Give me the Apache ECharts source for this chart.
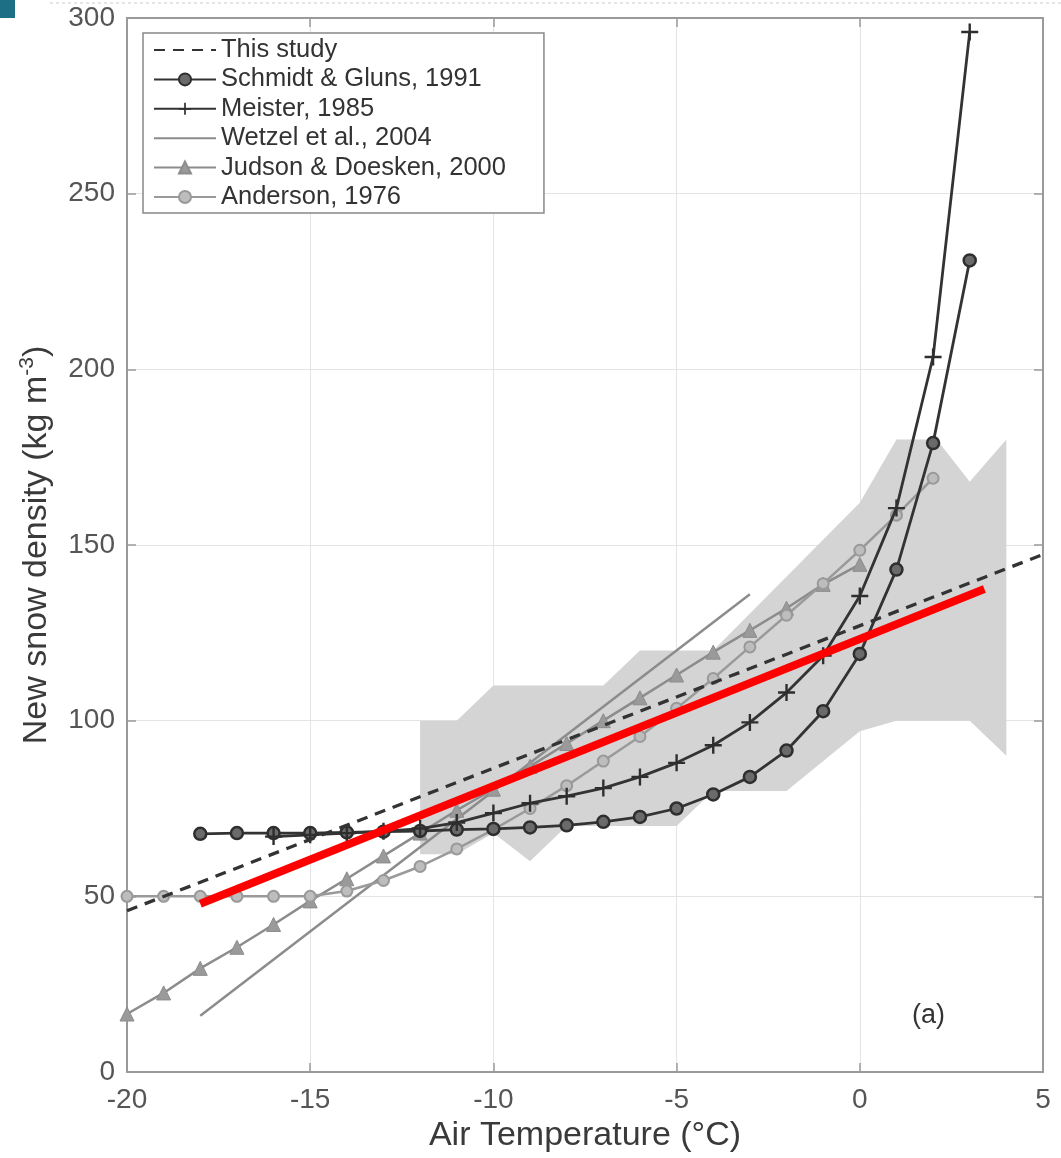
<!DOCTYPE html>
<html>
<head>
<meta charset="utf-8">
<script src="https://cdn.jsdelivr.net/npm/echarts@6/dist/echarts.min.js"></script>
<style>html,body{margin:0;padding:0;background:#fff;}#c{width:1061px;height:1158px;}</style>
</head>
<body>
<div id="c"></div>
<script>
// ---- data ----
const xTicks = [-20, -15, -10, -5, 0, 5];
const yTicks = [0, 50, 100, 150, 200, 250, 300];

const thisStudyT = [-20, 5];
const thisStudyV = [45.9, 147.3];

const schmidtT = [-18,-17,-16,-15,-14,-13,-12,-11,-10,-9,-8,-7,-6,-5,-4,-3,-2,-1,0,1,2,3];
const schmidtV = [67.8,68,68,68,68.2,68.4,68.6,69,69.2,69.6,70.2,71.2,72.6,75,79,84,91.5,102.7,119,143,179,231];

const meisterT = [-16,-15,-14,-13,-12,-11,-10,-9,-8,-7,-6,-5,-4,-3,-2,-1,0,1,2,3];
const meisterV = [67,67.5,68,68.5,69.3,71,73.7,76.5,78.5,80.8,84,88,93,99.5,108,118.5,135.5,160.5,203.5,296];

const wetzelT = [-18, -3];
const wetzelV = [16, 136];

const judsonT = [-20,-19,-18,-17,-16,-15,-14,-13,-12,-11,-10,-9,-8,-7,-6,-5,-4,-3,-2,-1,0];
const judsonV = [16.5,22.5,29.5,35.5,42,48.7,55,61.5,68,74.5,80.5,87,93.5,100,106.5,113,119.5,125.7,132,138.8,144.5];

const andersonT = [-20,-19,-18,-17,-16,-15,-14,-13,-12,-11,-10,-9,-8,-7,-6,-5,-4,-3,-2,-1,0,1,2];
const andersonV = [50,50,50,50,50,50,51.5,54.5,58.5,63.5,69,75,81.5,88.5,95.5,103.5,112,121,130,139,148.5,158.5,169];

const redT = [-18, 3.4];
const redV = [47.9, 137.5];

// shaded band: upper edge (left to right) and lower edge (left to right)
const bandUpperT = [-12,-11,-10,-7,-6,-4,0,1,2.1,3,4];
const bandUpperV = [100,100,110,110,120,120,162,180,180,168,180];
const bandLowerT = [-12,-11,-10,-9,-8,-5,-4,-2,0,1,3,4];
const bandLowerV = [62,62,68,60,70,70,80,80,97,100,100,90];

const legendNames = ['This study', 'Schmidt & Gluns, 1991', 'Meister, 1985', 'Wetzel et al., 2004', 'Judson & Doesken, 2000', 'Anderson, 1976'];

const pairs = (t, v) => t.map((x, i) => [x, v[i]]);
const bandPoly = pairs(bandUpperT, bandUpperV).concat(pairs(bandLowerT, bandLowerV).reverse());

const FONT = 'Liberation Sans, Arial, sans-serif';
const plusPath = 'path://M4.3,0 L5.7,0 L5.7,4.3 L10,4.3 L10,5.7 L5.7,5.7 L5.7,10 L4.3,10 L4.3,5.7 L0,5.7 L0,4.3 L4.3,4.3 Z';

const chart = echarts.init(document.getElementById('c'), null, {renderer: 'canvas'});

const axisLineStyle = {onZero: false, lineStyle: {color: '#9a9a9a', width: 2}};
const tickStyle = {show: true, inside: true, length: 9, lineStyle: {color: '#9a9a9a', width: 1.5}};

chart.setOption({
  animation: false,
  backgroundColor: '#fff',
  textStyle: {fontFamily: FONT},
  grid: {left: 127, right: 18, top: 18, bottom: 81, containLabel: false},
  xAxis: [{
    type: 'value', min: -20, max: 5, interval: 5,
    name: 'Air Temperature (°C)', nameLocation: 'middle', nameGap: 47,
    nameTextStyle: {fontSize: 34, color: '#3a3a3a', fontFamily: FONT},
    axisLine: axisLineStyle, axisTick: tickStyle,
    axisLabel: {fontSize: 28, color: '#555', margin: 14, fontFamily: FONT},
    splitLine: {show: true, lineStyle: {color: '#e4e4e4', width: 1}}
  }, {
    type: 'value', min: -20, max: 5, interval: 5, position: 'top',
    axisLine: axisLineStyle, axisTick: tickStyle, axisLabel: {show: false}, splitLine: {show: false}
  }],
  yAxis: [{
    type: 'value', min: 0, max: 300, interval: 50,
    name: 'New snow density (kg m{sup|-3})', nameLocation: 'middle', nameGap: 70,
    nameTextStyle: {fontSize: 34, color: '#3a3a3a', fontFamily: FONT,
      rich: {sup: {fontSize: 21, verticalAlign: 'top', padding: [0, 0, 19, 0], color: '#3a3a3a', fontFamily: FONT}}},
    axisLine: axisLineStyle, axisTick: tickStyle,
    axisLabel: {fontSize: 28, color: '#555', margin: 12, fontFamily: FONT},
    splitLine: {show: true, lineStyle: {color: '#e4e4e4', width: 1}}
  }, {
    type: 'value', min: 0, max: 300, interval: 50, position: 'right',
    axisLine: axisLineStyle, axisTick: tickStyle, axisLabel: {show: false}, splitLine: {show: false}
  }],
  legend: {
    orient: 'vertical', left: 143, top: 33,
    padding: [4, 38, 3, 10], itemGap: 3.4, itemWidth: 62, itemHeight: 15,
    backgroundColor: '#fff', borderColor: '#888', borderWidth: 1.5, borderRadius: 0,
    textStyle: {fontSize: 25.5, color: '#333', lineHeight: 26, fontFamily: FONT},
    data: legendNames.map(n => (n === 'This study' || n === 'Wetzel et al., 2004')
      ? {name: n, itemStyle: {opacity: 0}} : {name: n})
  },
  series: [
    {
      name: 'band', type: 'custom', silent: true, z: 1,
      data: [0],
      renderItem: function (params, api) {
        const pts = bandPoly.map(p => api.coord(p));
        return {type: 'polygon', shape: {points: pts}, style: {fill: '#d4d4d4'}};
      }
    },
    {
      name: 'Wetzel et al., 2004', type: 'line', z: 3, data: pairs(wetzelT, wetzelV),
      showSymbol: false, symbol: 'none', lineStyle: {color: '#8c8c8c', width: 2.5}, itemStyle: {color: '#8c8c8c'}
    },
    {
      name: 'Judson & Doesken, 2000', type: 'line', z: 4, data: pairs(judsonT, judsonV),
      symbol: 'triangle', symbolSize: 14, lineStyle: {color: '#8c8c8c', width: 2.5},
      itemStyle: {color: '#9a9a9a', borderColor: '#8c8c8c', borderWidth: 1}
    },
    {
      name: 'Anderson, 1976', type: 'line', z: 4, data: pairs(andersonT, andersonV),
      symbol: 'circle', symbolSize: 11, lineStyle: {color: '#9a9a9a', width: 2.5},
      itemStyle: {color: '#bdbdbd', borderColor: '#999', borderWidth: 2}
    },
    {
      name: 'Schmidt & Gluns, 1991', type: 'line', z: 5, data: pairs(schmidtT, schmidtV),
      symbol: 'circle', symbolSize: 12, lineStyle: {color: '#333', width: 2.8},
      itemStyle: {color: '#6a6a6a', borderColor: '#2e2e2e', borderWidth: 2.5}
    },
    {
      name: 'Meister, 1985', type: 'line', z: 5, data: pairs(meisterT, meisterV),
      symbol: plusPath, symbolSize: 17, lineStyle: {color: '#333', width: 2.8},
      itemStyle: {color: '#2e2e2e'}
    },
    {
      name: 'This study', type: 'line', z: 6, data: pairs(thisStudyT, thisStudyV),
      symbol: 'none', lineStyle: {color: '#333', width: 3.3, type: [11, 8]}, itemStyle: {color: '#333'}
    },
    {
      name: 'red', type: 'line', z: 7, data: pairs(redT, redV),
      symbol: 'none', lineStyle: {color: '#ff0000', width: 8, cap: 'butt'}, itemStyle: {color: '#ff0000'}
    }
  ],
  graphic: [
    {type: 'rect', left: 0, top: 0, shape: {width: 15, height: 18}, style: {fill: '#1d6f86'}},
    {type: 'line', shape: {x1: 50, y1: 3, x2: 1061, y2: 3}, style: {stroke: '#dddddd', lineWidth: 1.5, lineDash: [3, 3]}},
    {type: 'text', left: 912, top: 1002, style: {text: '(a)', fontSize: 27, fill: '#333', fontFamily: FONT}}
  ]
});
</script>
</body>
</html>
